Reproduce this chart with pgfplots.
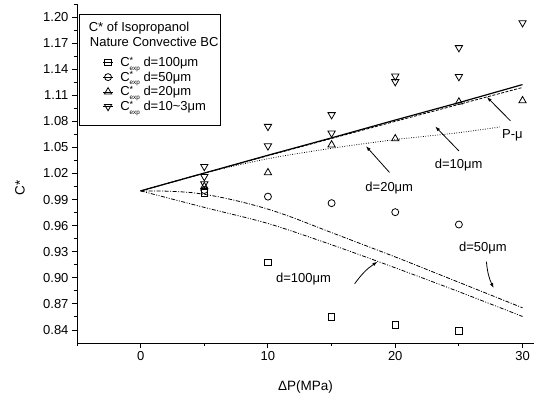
\documentclass[border=0pt]{standalone}
\usepackage{pgfplots}
\pgfplotsset{compat=1.18}
\usepackage{fontspec}
\setmainfont{Liberation Sans}
\usetikzlibrary{arrows.meta}

% C* with stacked superscript star and subscript "exp"
\newcommand{\Cexp}{C\makebox[0pt][l]{\smash{\raisebox{3.3bp}{\fontsize{9bp}{9bp}\selectfont *}}}\smash{\raisebox{-3.8bp}{\fontsize{6.3bp}{6.3bp}\selectfont exp}}}

\begin{document}
\begin{tikzpicture}[font=\fontsize{13bp}{15bp}\selectfont]
\begin{axis}[
  name=main,
  scale only axis, width=457bp, height=339bp,
  xmin=-5, xmax=30.9, ymin=0.825, ymax=1.215,
  axis x line*=bottom, axis y line*=left,
  axis line style={-, line width=1bp},
  tick align=outside, major tick length=5bp, minor tick length=3bp,
  every tick/.style={black, line width=0.9bp},
  xtick={0,10,20,30}, minor xtick={-5,5,15,25},
  ytick={0.84,0.87,0.90,0.93,0.96,0.99,1.02,1.05,1.08,1.11,1.14,1.17,1.20},
  minor ytick={0.855,0.885,0.915,0.945,0.975,1.005,1.035,1.065,1.095,1.125,1.155,1.185,1.215},
  /pgf/number format/assume math mode=true,
  yticklabel style={/pgf/number format/.cd, fixed, fixed zerofill, precision=2},
  ticklabel style={font=\fontsize{13bp}{15bp}\selectfont},
  xlabel={ΔP(MPa)},
  xlabel style={at={(axis description cs:0.5,0)}, anchor=center, yshift=-43.7bp, font=\fontsize{13.5bp}{16bp}\selectfont},
  legend style={draw=none, fill=none, at={(axis cs:-2.985,1.1550)}, anchor=north west,
    font=\fontsize{13bp}{14bp}\selectfont, row sep=2.6bp, inner sep=0pt,
    nodes={inner sep=0.6bp}, column sep=6.5bp},
  legend cell align=left,
  legend image code/.code={\path (-5bp,0) -- (5bp,0); \draw[#1] plot coordinates {(0bp,0bp)};},
  clip=false,
]

% model curves
\addplot[black, line width=1.2bp, forget plot] coordinates {
  (0,1.0) (5,1.0205) (10,1.041) (15,1.061) (20,1.0815) (25,1.1015) (30,1.1223)};
\addplot[black, line width=0.8bp, dash pattern=on 3bp off 1.5bp, forget plot] coordinates {
  (0,1.0) (5,1.0203) (10,1.0405) (15,1.0603) (20,1.080) (25,1.0995) (30,1.119)};
\addplot[black, line width=0.8bp, dash pattern=on 0.8bp off 1.6bp, smooth, forget plot] coordinates {
  (0,1.0) (5,1.0205) (10,1.037) (15,1.049) (20,1.059) (25,1.067) (28.2,1.0735)};
\addplot[black, line width=0.8bp, dash pattern=on 4bp off 1.5bp on 1bp off 1.5bp, smooth, forget plot] coordinates {
  (0,1.0) (2,0.9997) (4,0.998) (6,0.9935) (8,0.987) (10,0.979) (12,0.969) (15,0.952) (20,0.924) (25,0.8948) (30,0.8655)};
\addplot[black, line width=0.8bp, dash pattern=on 4bp off 1.5bp on 1bp off 1.5bp on 1bp off 1.5bp, smooth, forget plot] coordinates {
  (0,1.0) (5,0.981) (10,0.9625) (15,0.938) (20,0.9115) (25,0.884) (30,0.8555)};

% measured values
\addplot[only marks, mark=square, mark size=3.3bp, mark options={black, line width=0.8bp}] coordinates {
  (5,0.998) (10,0.9176) (15,0.8548) (20,0.846) (25,0.8387)};
\addlegendentry{\Cexp\ d=100μm}
\addplot[only marks, mark=o, mark size=3.5bp, mark options={black, line width=0.8bp}] coordinates {
  (5,1.001) (10,0.9934) (15,0.9859) (20,0.9755) (25,0.9613)};
\addlegendentry{\Cexp\ d=50μm}
\addplot[only marks, mark=triangle, mark size=4.2bp, mark options={black, line width=0.8bp}] coordinates {
  (5,1.005) (10,1.021) (15,1.053) (20,1.0600) (25,1.1023) (30,1.1038)};
\addlegendentry{\Cexp\ d=20μm}
\addplot[only marks, mark=triangle, mark size=4.2bp, mark options={black, line width=0.8bp, rotate=180}] coordinates {
  (5,1.028) (5,1.0164) (5,1.008) (10,1.0741) (10,1.0517) (15,1.0876) (15,1.0664)
  (20,1.132) (20,1.1256) (25,1.1647) (25,1.1314) (30,1.1934)};
\addlegendentry{\Cexp\ d=10\textasciitilde3μm}

% y axis title
\node[rotate=90, inner sep=0pt, font=\fontsize{13.5bp}{16bp}\selectfont] at (-9.48,1.0035) {C*};

% legend frame and title
\draw[line width=0.8bp] (-4.79,1.2035) rectangle (6.29,1.0755);
\node[anchor=west, inner sep=0pt] at (-4.085,1.1875) {C* of Isopropanol};
\node[anchor=west, inner sep=0pt] at (-4.0,1.1710) {Nature Convective BC};

% curve labels
\tikzset{lab/.style={inner sep=0pt}, arr/.style={-{Latex[length=5bp,width=3.5bp]}, line width=0.8bp}}
\node[lab] at (29.2,1.0635) {P-μ};
\draw[arr] (29.05,1.0806) -- (27.2,1.1080);
\node[lab] at (24.98,1.0297) {d=10μm};
\draw[arr] (25.0,1.046) -- (23.14,1.0741);
\node[lab] at (19.53,1.0031) {d=20μm};
\draw[arr] (19.55,1.0212) -- (17.7,1.0515);
\node[lab] at (26.89,0.9348) {d=50μm};
\draw[arr] (27.16,0.9187) to[bend right=10] (27.73,0.8882);
\node[lab] at (12.8,0.8985) {d=100μm};
\draw[arr] (16.81,0.8931) to[bend left=10] (18.6,0.9185);
\end{axis}
% page extent
\path (main.south west) ++(-77bp,-57bp) coordinate (bl);
\path (main.south west) ++(464bp,343bp) coordinate (tr);
\path (bl) rectangle (tr);
\end{tikzpicture}
\end{document}
